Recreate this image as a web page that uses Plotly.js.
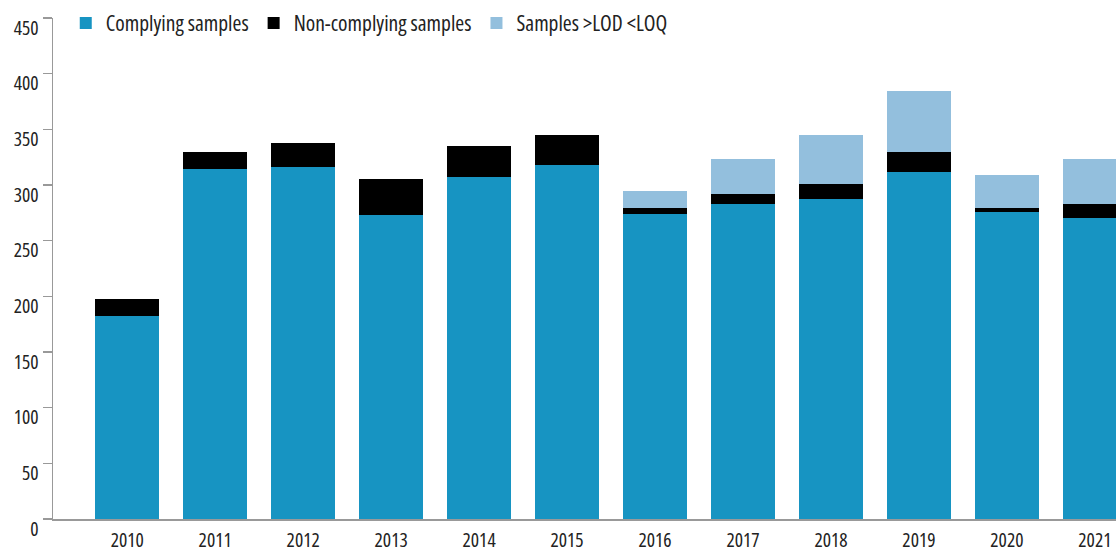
<!DOCTYPE html>
<html>
<head>
<meta charset="utf-8">
<script src="https://cdn.plot.ly/plotly-3.0.1.min.js"></script>
<style>html,body{margin:0;padding:0;background:#fff;}#chart{width:1116px;height:552px;}
text{font-stretch:75% !important;}</style>
</head>
<body>
<div id="chart"></div>
<script>
const years = ['2010','2011','2012','2013','2014','2015','2016','2017','2018','2019','2020','2021'];
const complying = [182, 314, 316, 273, 307, 318, 274, 283, 287, 312, 276, 270];
const nonComplying = [16, 16, 22, 32, 28, 27, 5, 9, 14, 18, 3, 13];
const lodLoq = [0, 0, 0, 0, 0, 0, 16, 31, 44, 54, 30, 40];
const yTicks = [0, 50, 100, 150, 200, 250, 300, 350, 400, 450];

const FONT = '"Open Sans", "DejaVu Sans", sans-serif';

const traces = [
  {type:'bar', name:'Complying samples', x:years, y:complying, marker:{color:'#1794c2'}},
  {type:'bar', name:'Non-complying samples', x:years, y:nonComplying, marker:{color:'#000000'}},
  {type:'bar', name:'Samples >LOD <LOQ', x:years, y:lodLoq, marker:{color:'#93bfdd'}}
];

const layout = {
  width:1116, height:552,
  margin:{l:53, r:0, t:18, b:33, pad:0},
  barmode:'stack',
  bargap:0.273,
  paper_bgcolor:'#fff', plot_bgcolor:'#fff',
  font:{family:FONT, size:19, color:'#222'},
  showlegend:true,
  legend:{orientation:'h', traceorder:'normal', x:0.012, xanchor:'left', y:0.99, yanchor:'middle',
          font:{family:FONT, size:21.5, color:'#222'}, itemgap:22, bgcolor:'rgba(0,0,0,0)'},
  xaxis:{type:'category', range:[-0.844, 11.24], showgrid:false, zeroline:false,
         showline:true, linecolor:'#999', linewidth:1.5, ticks:'', ticklabelstandoff:3,
         tickfont:{family:FONT,size:19.5,color:'#222'}},
  yaxis:{range:[0,450], tickvals:yTicks, ticktext:yTicks.map(String), showgrid:false, zeroline:false,
         showline:true, linecolor:'#999', linewidth:1.5, ticks:'outside', ticklen:9, tickcolor:'#999', tickwidth:1.5,
         ticklabelshift:10, tickfont:{family:FONT,size:19.5,color:'#222'}}
};

Plotly.newPlot('chart', traces, layout, {displayModeBar:false, staticPlot:true});
</script>
</body>
</html>
